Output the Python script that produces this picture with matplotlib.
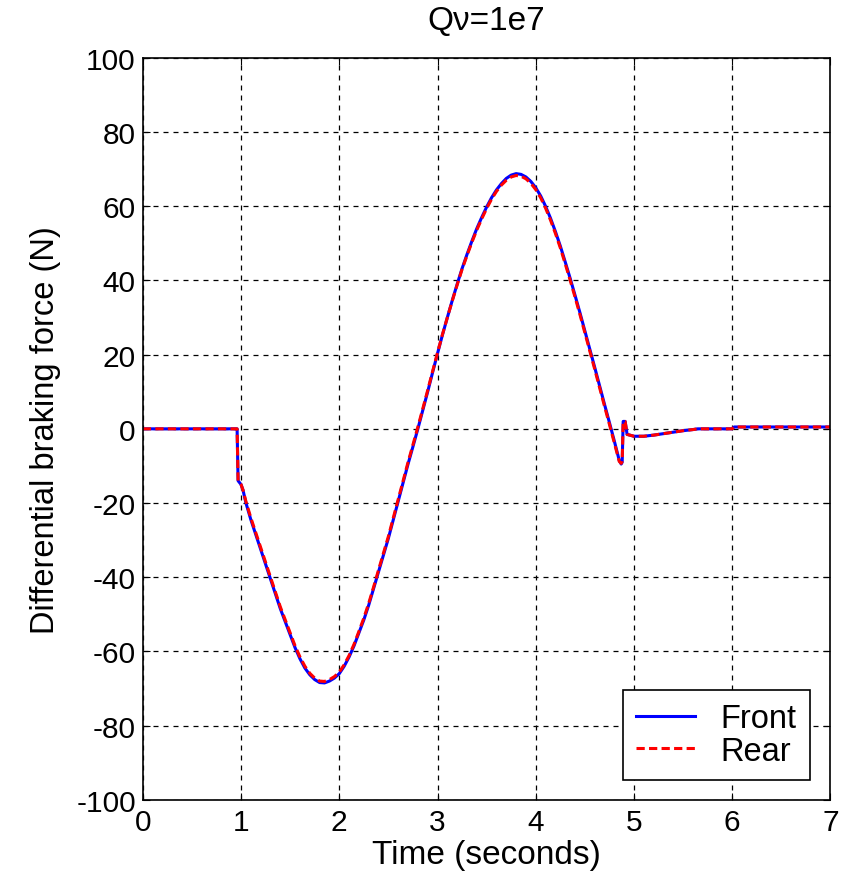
import numpy as np
import matplotlib.pyplot as plt

# sample times (seconds), shared by both curves
t = [0, 0.96, 0.97, 1.0, 1.02,
     1.05, 1.10, 1.15, 1.20, 1.25, 1.30, 1.35, 1.40, 1.45, 1.50,
     1.55, 1.60, 1.65, 1.70, 1.75, 1.80, 1.85, 1.90, 1.95, 2.00,
     2.05, 2.10, 2.15, 2.20, 2.25, 2.30, 2.35, 2.40, 2.45, 2.50,
     2.55, 2.60, 2.65, 2.70, 2.75, 2.80, 2.85, 2.90, 2.95, 3.00,
     3.05, 3.10, 3.15, 3.20, 3.25, 3.30, 3.35, 3.40, 3.45, 3.50,
     3.55, 3.60, 3.65, 3.70, 3.75, 3.80, 3.85, 3.90, 3.95, 4.00,
     4.05, 4.10, 4.15, 4.20, 4.25, 4.30, 4.35, 4.40, 4.45, 4.50,
     4.55, 4.60, 4.65, 4.70, 4.75, 4.80, 4.85,
     4.87, 4.88, 4.89, 4.91, 4.93, 5.0, 5.1, 5.2, 5.3, 5.4, 5.5, 5.6, 5.65,
     6.0, 6.02, 7.0]

# Front (blue solid)
f_front = [0, 0, -14, -15, -16.5,
           -20, -24.5, -28.5, -32.5, -36.5, -40.5, -44.5, -48.5, -52, -55.5,
           -59, -62, -64.5, -66.3, -67.6, -68.4, -68.5, -68, -67.2, -66,
           -64, -61.5, -58.5, -55, -51.5, -47.5, -43, -38.5, -34, -29.5,
           -24.5, -19.5, -14.5, -9.5, -4.8, 0, 5, 10, 15.2, 20.3,
           25.3, 30, 34.6, 39, 43.2, 47, 50.6, 54, 57, 59.8,
           62.3, 64.4, 66.1, 67.5, 68.4, 68.8, 68.6, 67.9, 66.7, 65,
           62.8, 60, 56.8, 53.2, 49.3, 45, 40.6, 36, 31.3, 26.4,
           21.5, 16.6, 11.6, 6.6, 1.7, -3.3, -8.5,
           -9.5, -9, 2, 2, -1.5, -2, -2, -1.7, -1.3, -0.9, -0.5, -0.2, 0,
           0, 0.5, 0.5]

# Rear (red dashed), almost on top of the front curve
f_rear = [0, 0, -14, -15, -16.5,
          -19.6, -24, -28, -32, -36, -40, -44, -48, -51.5, -55,
          -58.5, -61.5, -64, -65.9, -67.2, -68, -68.1, -67.6, -66.8, -65.6,
          -63.6, -61.1, -58.1, -54.6, -51, -47, -42.6, -38, -33.5, -29,
          -24, -19, -14, -9, -4.3, 0.5, 5.4, 10.4, 15.5, 20.5,
          25.4, 30, 34.5, 38.8, 43, 46.7, 50.3, 53.6, 56.6, 59.4,
          61.9, 64, 65.7, 67, 67.9, 68.3, 68.1, 67.4, 66.2, 64.5,
          62.3, 59.5, 56.3, 52.7, 48.8, 44.5, 40.1, 35.5, 30.8, 25.9,
          21, 16.1, 11.1, 6.1, 1.2, -3.8, -8.8,
          -9.3, -8.8, 2, 2, -1.5, -2, -2, -1.7, -1.3, -0.9, -0.5, -0.2, 0,
          0, 0.5, 0.5]

plt.rcParams['font.family'] = ['Liberation Sans', 'DejaVu Sans']
plt.rcParams['axes.unicode_minus'] = False

fig = plt.figure(figsize=(8.5, 8.79), dpi=100)
ax = fig.add_axes([0.168, 0.089, 0.809, 0.844])

ax.plot(t, f_front, color='blue', lw=2.2, label='Front')
ax.plot(t, f_rear, color='red', lw=2.2, ls=(0, (2.7, 1.4)), label='Rear')

ax.set_xlim(0, 7)
ax.set_ylim(-100, 100)
ax.set_xticks(range(0, 8))
ax.set_yticks(range(-100, 101, 20))
ax.grid(True, color='black', ls=(0, (4, 4)), lw=0.9)
ax.tick_params(direction='in', length=5, top=True, right=True, labelsize=21.5)
ax.tick_params(axis='x', pad=6)
ax.tick_params(axis='y', pad=5)
for s in ax.spines.values():
    s.set_linewidth(1.2)

ax.set_xlabel('Time (seconds)', fontsize=24, labelpad=2)
ax.set_ylabel('Differential braking force (N)', fontsize=23.5, labelpad=11)
ax.set_title('Q\u03bd=1e7', fontsize=24, pad=21)

leg = ax.legend(loc='lower right', bbox_to_anchor=(0.970, 0.027), fontsize=23.5,
                fancybox=False, framealpha=1, edgecolor='black', handlelength=1.8,
                borderaxespad=0, labelspacing=0.05, handletextpad=0.8, borderpad=0.4)
leg.get_frame().set_linewidth(1.2)

fig.savefig('out.png', dpi=100)
